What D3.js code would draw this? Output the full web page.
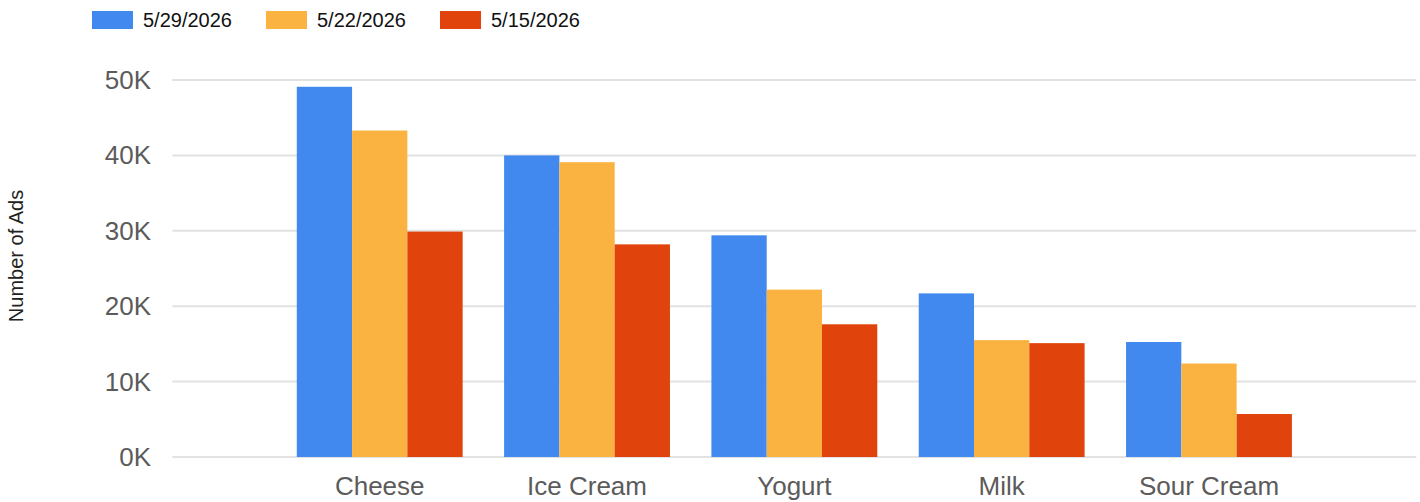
<!DOCTYPE html>
<html>
<head>
<meta charset="utf-8">
<script src="https://cdn.jsdelivr.net/npm/d3@7"></script>
<style>
  html, body { margin: 0; padding: 0; background: #fff; }
  svg { display: block; font-family: "Liberation Sans", Arial, sans-serif; }
</style>
</head>
<body>
<svg id="chart" width="1420" height="502"></svg>
<script>
const categories = ["Cheese", "Ice Cream", "Yogurt", "Milk", "Sour Cream"];
const seriesNames = ["5/29/2026", "5/22/2026", "5/15/2026"];
const values529 = [49100, 40000, 29400, 21700, 15250];
const values522 = [43300, 39100, 22200, 15500, 12400];
const values515 = [29900, 28200, 17600, 15100, 5700];
const seriesColors = ["#4189ef", "#fab241", "#e0430b"];
const yTicks = [0, 10000, 20000, 30000, 40000, 50000];
const yTickLabels = ["0K", "10K", "20K", "30K", "40K", "50K"];
const yTitle = "Number of Ads";

const seriesValues = [values529, values522, values515];
const svg = d3.select("#chart");

const plotLeft = 172.4, plotRight = 1416.3;
const slot = (plotRight - plotLeft) / (categories.length + 1);
const x = d3.scaleBand().domain(categories)
  .range([plotLeft + slot / 2, plotRight - slot / 2]).padding(0);
const x1 = d3.scaleBand().domain(seriesNames)
  .range([x.bandwidth() * 0.1, x.bandwidth() * 0.9]).padding(0);
const y = d3.scaleLinear().domain([0, 50000]).range([457, 80]);

// gridlines
svg.append("g").selectAll("line").data(yTicks).join("line")
  .attr("x1", plotLeft).attr("x2", plotRight)
  .attr("y1", d => y(d)).attr("y2", d => y(d))
  .attr("stroke", "#e2e2e2").attr("stroke-width", 2);

// y tick labels
svg.append("g").selectAll("text").data(yTicks).join("text")
  .attr("x", 151).attr("y", d => y(d) + 9)
  .attr("text-anchor", "end")
  .attr("font-size", 26).attr("fill", "#5b5b5b")
  .text((d, i) => yTickLabels[i]);

// y title
svg.append("text")
  .attr("transform", "translate(23,256) rotate(-90)")
  .attr("text-anchor", "middle")
  .attr("font-size", 20).attr("fill", "#222")
  .text(yTitle);

// bars
const groups = svg.append("g").selectAll("g").data(categories).join("g")
  .attr("transform", d => `translate(${x(d)},0)`);
groups.selectAll("rect")
  .data((c, ci) => seriesNames.map((s, si) => ({ s, si, v: seriesValues[si][ci] })))
  .join("rect")
  .attr("x", d => x1(d.s)).attr("width", x1.bandwidth())
  .attr("y", d => y(d.v)).attr("height", d => y(0) - y(d.v))
  .attr("fill", d => seriesColors[d.si]);

// category labels
svg.append("g").selectAll("text").data(categories).join("text")
  .attr("x", d => x(d) + x.bandwidth() / 2).attr("y", 495)
  .attr("text-anchor", "middle")
  .attr("font-size", 26).attr("fill", "#5b5b5b")
  .text(d => d);

// legend
const legend = svg.append("g").selectAll("g").data(seriesNames).join("g")
  .attr("transform", (d, i) => `translate(${92 + i * 174},0)`);
legend.append("rect")
  .attr("x", 0).attr("y", 11).attr("width", 41).attr("height", 18)
  .attr("fill", (d, i) => seriesColors[i]);
legend.append("text")
  .attr("x", 51).attr("y", 26.5)
  .attr("font-size", 20).attr("fill", "#111")
  .text(d => d);
</script>
</body>
</html>
